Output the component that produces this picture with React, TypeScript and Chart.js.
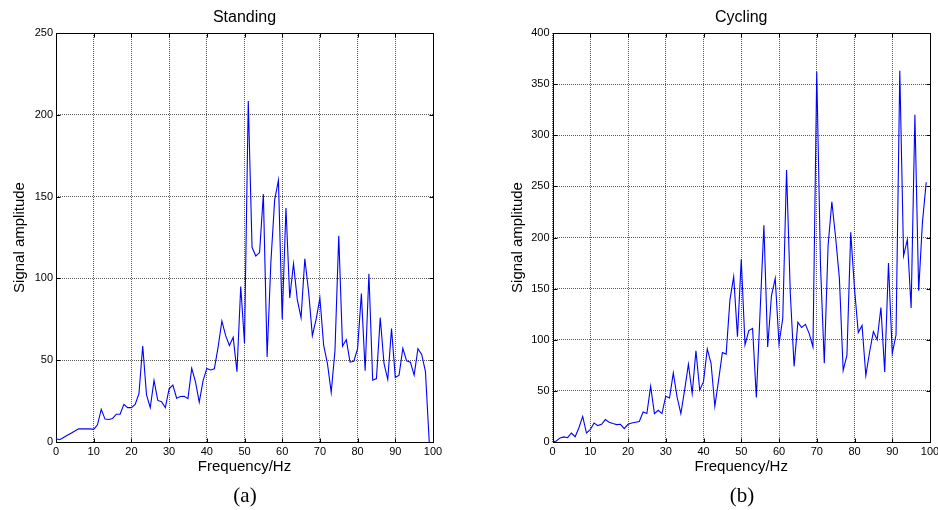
import { useEffect, useRef } from "react";
import { Chart, registerables } from "chart.js";

Chart.register(...registerables);

// Spectrum bins (Hz)
const frequencyHz = [
  0, 1, 2, 3, 4, 5, 6, 7, 8, 9, 10, 11, 12, 13, 14, 15, 16, 17, 18, 19,
  20, 21, 22, 23, 24, 25, 26, 27, 28, 29, 30, 31, 32, 33, 34, 35, 36, 37, 38, 39,
  40, 41, 42, 43, 44, 45, 46, 47, 48, 49, 50, 51, 52, 53, 54, 55, 56, 57, 58, 59,
  60, 61, 62, 63, 64, 65, 66, 67, 68, 69, 70, 71, 72, 73, 74, 75, 76, 77, 78, 79,
  80, 81, 82, 83, 84, 85, 86, 87, 88, 89, 90, 91, 92, 93, 94, 95, 96, 97, 98, 99,
];

// Signal amplitude while standing
const standingAmplitude = [
  2, 1.4, 2.8, 4.1, 5.4, 6.7, 8.1, 8, 8, 8, 7.7, 10.5, 20, 14, 13.8, 14.4, 17, 17, 23, 21,
  21, 23, 29.5, 58.7, 29, 21, 37.6, 25.4, 24.6, 21, 32.5, 34.8, 26.8, 27.8, 28, 26.5, 45, 36.8, 24.4, 37.4,
  45, 44, 44.7, 58, 74, 65, 59, 64, 43, 95, 60.5, 208.5, 119, 113.7, 115.8, 151.5, 52, 110, 148, 160,
  75, 143, 88, 109, 87, 76, 112, 92, 65, 75, 88, 59, 48, 30.3, 56, 126, 58.5, 62.6, 48.8, 49.4,
  57, 90.7, 43.5, 102.8, 37.8, 38.8, 76, 48, 38.2, 69.3, 39.4, 40.9, 57.3, 49.6, 48.8, 40.9, 57, 53.5, 43, 0,
];

// Signal amplitude while cycling
const cyclingAmplitude = [
  0, 1, 4, 5, 4.2, 8.8, 5.2, 14, 25, 8.8, 12, 18.6, 16, 17.3, 21.9, 19.3, 18, 17, 17.3, 13,
  17.3, 18.6, 19.3, 20, 29.4, 27.8, 54.6, 27.8, 31, 27.8, 44.8, 43, 67.6, 44, 27.8, 50.7, 76, 47.4, 89.2, 50.7,
  59, 91, 77, 35, 60.5, 87.6, 86, 139, 161.6, 103, 178.7, 95, 109, 111, 43.6, 128, 212, 93, 143, 160,
  96, 121, 266, 145, 74, 117, 112, 115, 106, 93, 362, 172, 77, 192, 235, 200, 160, 70, 85, 205,
  150, 107, 114, 65, 88, 108, 100, 131.6, 68.6, 175, 86.6, 104.6, 363, 182, 198, 131, 320, 148, 215, 254,
];

const frequencyTicks = [0, 10, 20, 30, 40, 50, 60, 70, 80, 90, 100];
const standingTicks = [0, 50, 100, 150, 200, 250];
const cyclingTicks = [0, 50, 100, 150, 200, 250, 300, 350, 400];

const SANS = "'Liberation Sans', Arial, Helvetica, sans-serif";

// Black box around the plot area with short inward tick marks on all four sides
const framePlugin = {
  id: "frame",
  beforeDatasetsDraw(chart: any) {
    const { ctx, chartArea, scales } = chart;
    const l = Math.round(chartArea.left) + 0.5;
    const r = Math.round(chartArea.right) + 0.5;
    const t = Math.round(chartArea.top) + 0.5;
    const b = Math.round(chartArea.bottom) + 0.5;
    const len = 4;
    ctx.save();
    ctx.strokeStyle = "#000";
    ctx.lineWidth = 1;
    ctx.setLineDash([]);
    ctx.beginPath();
    scales.x.ticks.forEach((tk: any) => {
      const px = Math.round(scales.x.getPixelForValue(tk.value)) + 0.5;
      ctx.moveTo(px, b);
      ctx.lineTo(px, b - len);
      ctx.moveTo(px, t);
      ctx.lineTo(px, t + len);
    });
    scales.y.ticks.forEach((tk: any) => {
      const py = Math.round(scales.y.getPixelForValue(tk.value)) + 0.5;
      ctx.moveTo(l, py);
      ctx.lineTo(l + len, py);
      ctx.moveTo(r, py);
      ctx.lineTo(r - len, py);
    });
    ctx.stroke();
    ctx.strokeRect(l, t, r - l, b - t);
    ctx.restore();
  },
};

type PanelProps = {
  title: string;
  values: number[];
  yTicks: number[];
  width: number;
  yAxisWidth: number;
  padRight: number;
  yTitleOffset: number;
};

function SpectrumPanel({ title, values, yTicks, width, yAxisWidth, padRight, yTitleOffset }: PanelProps) {
  const ref = useRef<HTMLCanvasElement | null>(null);

  useEffect(() => {
    if (!ref.current) return;
    const points = frequencyHz.map((f, i) => ({ x: f, y: values[i] }));
    const chart = new Chart(ref.current, {
      type: "line",
      data: {
        datasets: [
          {
            data: points,
            borderColor: "#0000ff",
            borderWidth: 1.1,
            pointRadius: 0,
            tension: 0,
            fill: false,
          },
        ],
      },
      options: {
        animation: false,
        responsive: false,
        events: [],
        layout: { padding: { left: 0, right: padRight, top: 0, bottom: 0 } },
        plugins: {
          legend: { display: false },
          tooltip: { enabled: false },
          title: {
            display: true,
            text: title,
            fullSize: false,
            color: "#000",
            font: { family: SANS, size: 16, weight: "normal" },
            padding: { top: 8.4, bottom: 5.4 },
          },
        },
        scales: {
          x: {
            type: "linear",
            min: frequencyTicks[0],
            max: frequencyTicks[frequencyTicks.length - 1],
            afterBuildTicks: (s: any) => {
              s.ticks = frequencyTicks.map((v) => ({ value: v }));
            },
            afterFit: (s: any) => {
              s.height = 68;
            },
            grid: { color: "#5a5a5a", lineWidth: 1, drawTicks: false },
            border: { display: false, dash: [1, 1] },
            ticks: {
              color: "#000",
              padding: 3,
              maxRotation: 0,
              autoSkip: false,
              font: { family: SANS, size: 11 },
            },
            title: {
              display: true,
              text: "Frequency/Hz",
              color: "#000",
              font: { family: SANS, size: 15 },
              padding: { top: 0, bottom: 34 },
            },
          },
          y: {
            type: "linear",
            min: yTicks[0],
            max: yTicks[yTicks.length - 1],
            afterBuildTicks: (s: any) => {
              s.ticks = yTicks.map((v) => ({ value: v }));
            },
            afterFit: (s: any) => {
              s.width = yAxisWidth;
            },
            grid: { color: "#5a5a5a", lineWidth: 1, drawTicks: false },
            border: { display: false, dash: [1, 1] },
            ticks: {
              color: "#000",
              padding: 3,
              autoSkip: false,
              font: { family: SANS, size: 11 },
            },
            title: {
              display: true,
              text: "Signal amplitude",
              color: "#000",
              font: { family: SANS, size: 15 },
              padding: { top: yTitleOffset, bottom: 0 },
            },
          },
        },
      },
      plugins: [framePlugin],
    });
    return () => chart.destroy();
  }, [title, values, yTicks, width, yAxisWidth, padRight, yTitleOffset]);

  return <canvas ref={ref} width={width} height={510} style={{ display: "block" }} />;
}

const captionStyle: React.CSSProperties = {
  position: "absolute",
  top: 483,
  width: 60,
  textAlign: "center",
  fontFamily: "'Liberation Serif', 'Times New Roman', serif",
  fontSize: 21,
  lineHeight: "24px",
  color: "#000",
};

export default function App() {
  return (
    <div
      style={{
        position: "fixed",
        left: 0,
        top: 0,
        width: 938,
        height: 510,
        overflow: "hidden",
        background: "#fff",
      }}
    >
      <div style={{ position: "absolute", left: 0, top: 0 }}>
        <SpectrumPanel
          title="Standing"
          values={standingAmplitude}
          yTicks={standingTicks}
          width={469}
          yAxisWidth={56}
          padRight={36}
          yTitleOffset={11}
        />
      </div>
      <div style={{ position: "absolute", left: 469, top: 0 }}>
        <SpectrumPanel
          title="Cycling"
          values={cyclingAmplitude}
          yTicks={cyclingTicks}
          width={489}
          yAxisWidth={83.5}
          padRight={28}
          yTitleOffset={40}
        />
      </div>
      <div style={{ ...captionStyle, left: 245 - 30 }}>(a)</div>
      <div style={{ ...captionStyle, left: 742 - 30 }}>(b)</div>
    </div>
  );
}
